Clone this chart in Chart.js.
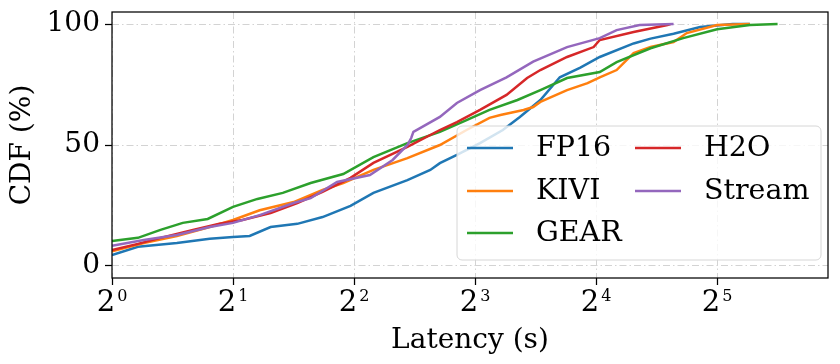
<!DOCTYPE html>
<html>
<head>
<meta charset="utf-8">
<script src="https://cdn.jsdelivr.net/npm/chart.js@4.4.1/dist/chart.umd.min.js"></script>
<style>
  html, body { margin: 0; padding: 0; background: #fff; }
  #wrap { width: 840px; height: 364px; }
</style>
</head>
<body>
<div id="wrap"><canvas id="cdfChart" width="840" height="364"></canvas></div>
<script>
// latency (s), CDF (%)
const fp16 = [[1.00, 4.5], [1.16, 7.9], [1.45, 9.5], [1.75, 11.2], [2.00, 12.0], [2.20, 12.4], [2.48, 16.1],
  [2.89, 17.4], [3.34, 20.2], [3.92, 24.8], [4.47, 30.2], [5.43, 35.5], [6.19, 39.7], [6.54, 42.5],
  [7.21, 45.9], [8.23, 50.8], [9.38, 56.2], [10.34, 61.6], [11.63, 68.6], [13.0, 78.0], [14.62, 82.0],
  [16.34, 86.4], [19.84, 92.0], [21.86, 94.0], [24.94, 96.0], [29.04, 98.8], [35.0, 100], [38.6, 100]];
const kivi = [[1.00, 6.0], [1.20, 9.5], [1.45, 12.4], [1.75, 16.1], [2.00, 19.0], [2.33, 23.0], [2.83, 26.4],
  [3.34, 31.4], [3.76, 34.3], [4.47, 39.7], [5.43, 44.6], [6.54, 50.0], [7.62, 56.2], [8.69, 61.2],
  [9.25, 62.4], [10.56, 64.5], [11.16, 65.7], [11.63, 67.8], [13.55, 72.7], [15.24, 75.6], [16.34, 78.0],
  [18.0, 81.0], [19.84, 88.0], [21.86, 90.5], [24.94, 92.6], [26.9, 96.3], [32.0, 99.6], [38.6, 100]];
const gear = [[1.00, 10.3], [1.16, 11.6], [1.32, 14.9], [1.50, 17.8], [1.73, 19.4], [2.00, 24.4], [2.30, 27.7],
  [2.66, 30.2], [3.12, 34.3], [3.76, 38.0], [4.47, 45.0], [5.43, 50.8], [6.54, 55.4], [7.62, 60.3],
  [8.69, 64.5], [10.2, 68.6], [11.63, 72.7], [13.55, 77.7], [16.34, 80.2], [18.0, 84.3], [21.86, 90.0],
  [26.35, 94.2], [32.0, 97.9], [38.6, 99.6], [45.25, 100]];
const h2o = [[1.00, 6.6], [1.16, 9.1], [1.32, 11.6], [1.59, 14.9], [1.85, 17.4], [2.11, 19.0], [2.48, 21.9],
  [2.89, 26.0], [3.34, 30.6], [3.92, 36.4], [4.47, 42.6], [5.43, 49.2], [6.54, 56.2], [7.21, 59.5],
  [8.23, 64.5], [9.58, 70.7], [10.78, 77.7], [11.63, 81.0], [13.55, 86.4], [15.78, 90.5], [16.34, 93.4],
  [19.84, 96.7], [24.08, 99.6], [24.5, 100]];
const stream = [[1.00, 8.3], [1.20, 10.7], [1.45, 12.8], [1.75, 16.1], [2.00, 17.8], [2.33, 21.0], [2.83, 26.0],
  [3.12, 28.0], [3.63, 34.7], [4.38, 37.6], [4.99, 43.8], [5.43, 50.0], [5.55, 52.9], [5.62, 55.4],
  [6.54, 61.6], [7.21, 67.4], [8.23, 72.7], [9.58, 78.0], [11.16, 84.5], [13.55, 90.5], [16.34, 94.2],
  [18.0, 97.5], [20.54, 99.6], [24.94, 100]];

const seriesNames = ["FP16", "KIVI", "GEAR", "H2O", "Stream"];
const seriesData = [fp16, kivi, gear, h2o, stream];
const seriesColors = ["#1f77b4", "#ff7f0e", "#2ca02c", "#d62728", "#9467bd"];

const xTicks = [1, 2, 4, 8, 16, 32];
const xTickBase = "2";
const xTickExps = ["0", "1", "2", "3", "4", "5"];
const yTicks = [0, 50, 100];

const FONT = '"DejaVu Serif", serif';

// matplotlib-style frame, 2^n tick labels and legend inside the axes
const framePlugin = {
  id: "frame",
  afterDatasetsDraw(chart) {
    const { ctx, chartArea: a } = chart;
    ctx.save();
    ctx.strokeStyle = "#000";
    ctx.lineWidth = 1.25;
    ctx.strokeRect(a.left, a.top, a.right - a.left, a.bottom - a.top);

    // x tick labels with superscript exponent
    const xs = chart.scales.x;
    ctx.fillStyle = "#000";
    ctx.textBaseline = "alphabetic";
    ctx.textAlign = "left";
    xTicks.forEach((v, i) => {
      const px = xs.getPixelForValue(v);
      ctx.font = "29px " + FONT;
      const wb = ctx.measureText(xTickBase).width;
      ctx.font = "16px " + FONT;
      const we = ctx.measureText(xTickExps[i]).width;
      const x0 = px - (wb + 2 + we) / 2;
      ctx.font = "29px " + FONT;
      ctx.fillText(xTickBase, x0, a.bottom + 33);
      ctx.font = "16px " + FONT;
      ctx.fillText(xTickExps[i], x0 + wb + 2, a.bottom + 23);
    });

    // legend box
    const bw = 364, bh = 134;
    const bx = a.right - 7 - bw, by = a.bottom - 18 - bh;
    ctx.beginPath();
    ctx.roundRect(bx, by, bw, bh, 5);
    ctx.fillStyle = "rgba(255,255,255,0.8)";
    ctx.fill();
    ctx.strokeStyle = "#d6d6d6";
    ctx.lineWidth = 1;
    ctx.stroke();

    const cols = [[0, 1, 2], [3, 4]];
    const colX = [10, 178];
    const rowY = [22, 65, 107];
    ctx.font = "28.5px " + FONT;
    ctx.textBaseline = "middle";
    ctx.fillStyle = "#000";
    cols.forEach((idxs, c) => {
      idxs.forEach((i, r) => {
        const x = bx + colX[c], y = by + rowY[r];
        ctx.beginPath();
        ctx.moveTo(x, y);
        ctx.lineTo(x + 46, y);
        ctx.strokeStyle = seriesColors[i];
        ctx.lineWidth = 2.5;
        ctx.stroke();
        ctx.fillText(seriesNames[i], x + 69, y + 1);
      });
    });
    ctx.restore();
  },
};

new Chart(document.getElementById("cdfChart"), {
  type: "line",
  data: {
    datasets: seriesNames.map((name, i) => ({
      label: name,
      data: seriesData[i].map((p) => ({ x: p[0], y: p[1] })),
      borderColor: seriesColors[i],
      borderWidth: 2.5,
      pointRadius: 0,
      tension: 0,
      fill: false,
      order: seriesNames.length - 1 - i,
    })),
  },
  options: {
    responsive: false,
    animation: false,
    layout: { padding: { top: 12, right: 12, left: 0, bottom: 0 } },
    plugins: {
      legend: { display: false },
      tooltip: { enabled: false },
    },
    scales: {
      x: {
        type: "logarithmic",
        min: 1,
        max: 60.4,
        afterBuildTicks: (scale) => {
          scale.ticks = xTicks.map((v) => ({ value: v }));
        },
        afterFit: (scale) => {
          scale.height = 86;
          scale.paddingLeft = 0;
          scale.paddingRight = 0;
        },
        ticks: {
          display: false,
          autoSkip: false,
        },
        grid: {
          color: "#d3d3d3",
          lineWidth: 1,
          tickColor: "#000",
          tickLength: 7,
          tickWidth: 1.25,
          tickBorderDash: [],
        },
        border: { display: false, dash: [7, 3, 1.5, 3] },
        title: {
          display: true,
          text: "Latency (s)",
          color: "#000",
          font: { family: FONT, size: 28 },
          padding: { top: 0, bottom: 6 },
        },
      },
      y: {
        min: -5,
        max: 105,
        afterBuildTicks: (scale) => {
          scale.ticks = yTicks.map((v) => ({ value: v }));
        },
        afterFit: (scale) => {
          scale.width = 112;
          scale.paddingTop = 0;
          scale.paddingBottom = 0;
        },
        ticks: {
          padding: 5,
          color: "#000",
          font: { family: FONT, size: 28 },
        },
        grid: {
          color: "#d3d3d3",
          lineWidth: 1,
          tickColor: "#000",
          tickLength: 7,
          tickWidth: 1.25,
          tickBorderDash: [],
        },
        border: { display: false, dash: [7, 3, 1.5, 3] },
        title: {
          display: true,
          text: "CDF (%)",
          color: "#000",
          font: { family: FONT, size: 28 },
          padding: { top: 6, bottom: 0 },
        },
      },
    },
  },
  plugins: [framePlugin],
});
</script>
</body>
</html>
